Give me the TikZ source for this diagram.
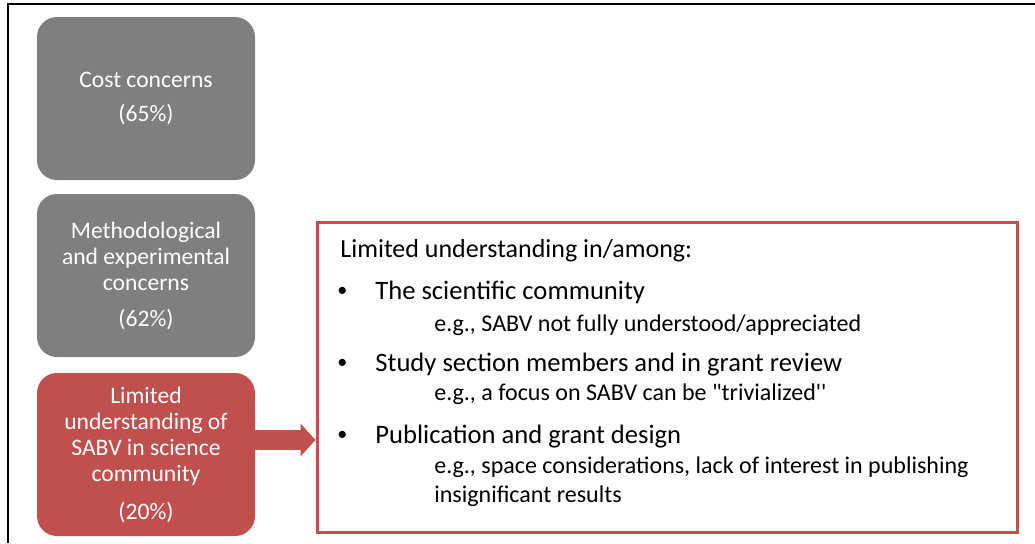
\documentclass[tikz,border=0pt]{standalone}
\usepackage{fontspec}
\setmainfont{Carlito}
\definecolor{boxgray}{RGB}{127,127,127}
\definecolor{boxred}{RGB}{192,80,77}
\usetikzlibrary{arrows.meta}
\newcommand{\smallbullet}{\makebox[19pt][l]{\raisebox{1.2pt}{\fontsize{10}{10}\selectfont\textbullet}}}

\begin{document}
\begin{tikzpicture}[x=0.5pt, y=-0.5pt,
  catbox/.style={fill=boxgray, rounded corners=10pt, minimum width=109pt, minimum height=81.5pt, text width=105pt, align=flush center, text=white, inner sep=0pt, font=\fontsize{11.8}{13}\selectfont},
  hotbox/.style={catbox, fill=boxred},
  detailbox/.style={draw=boxred, line width=1.5pt, minimum width=350pt, minimum height=155pt, inner sep=0pt},
  itemline/.style={anchor=base west, inner sep=0pt, font=\fontsize{13.3}{16}\selectfont},
  subline/.style={anchor=base west, inner sep=0pt, font=\fontsize{12}{14.5}\selectfont},
  bigarrow/.style={draw=boxred, line width=10pt, -{Triangle[length=7.5pt, width=16pt]}}
]
  \useasboundingbox (0,0) rectangle (1035,543);
  \draw[line width=1pt] (1035,4) -- (8,4) -- (8,543);

  \node[catbox] (cost) at (146,98.5) {Cost concerns\\[4pt](65\%)};
  \node[catbox] (method) at (146,275.5) {Methodological\\and experimental\\concerns\\[5pt](62\%)};
  \node[hotbox] (limited) at (146,454.5) {Limited\\understanding of\\SABV in science\\community\\[6pt](20\%)};

  \node[detailbox] (detail) at (667,377) {};
  \node[itemline, font=\fontsize{13}{16}\selectfont] (heading) at (340,257) {Limited understanding in/among:};
  \node[itemline] (item1) at (337,299) {\smallbullet The scientific community};
  \node[subline] (sub1) at (434,331) {e.g., SABV not fully understood/appreciated};
  \node[itemline] (item2) at (337,371) {\smallbullet Study section members and in grant review};
  \node[subline] (sub2) at (434,400) {e.g., a focus on SABV can be \textquotedbl trivialized\textquotesingle\textquotesingle};
  \node[itemline] (item3) at (337,443) {\smallbullet Publication and grant design};
  \node[subline] (sub3) at (434,473) {e.g., space considerations, lack of interest in publishing};
  \node[subline] (sub3b) at (434,502) {insignificant results};

  \coordinate (arrowy) at (0,440);
  \draw[bigarrow] (limited.east |- arrowy) -- (detail.west |- arrowy);
\end{tikzpicture}
\end{document}
